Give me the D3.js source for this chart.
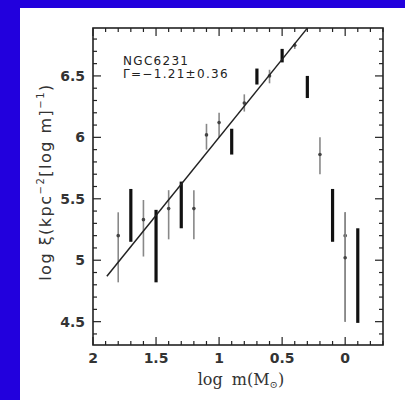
<!DOCTYPE html>
<html>
<head>
<meta charset="utf-8">
<script src="https://cdn.jsdelivr.net/npm/d3@7"></script>
<style>
  body { margin: 0; background: #2200dd; }
  svg { display: block; }
</style>
</head>
<body>
<svg id="chart" width="405" height="400"></svg>
<script>
// thick black bins
let thickX = [1.7, 1.5, 1.3, 0.9, 0.7, 0.5, 0.3, 0.1, -0.1]
let thickY = [5.42, 5.2, 5.45, 5.97, 6.5, 6.67, 6.41, 5.45, 5.02]
let thickLo = [5.15, 4.82, 5.26, 5.86, 6.43, 6.61, 6.32, 5.15, 4.49]
let thickHi = [5.58, 5.41, 5.64, 6.07, 6.56, 6.72, 6.5, 5.58, 5.26]

// thin grey bins
let thinX = [1.8, 1.6, 1.4, 1.2, 1.1, 1.0, 0.8, 0.6, 0.4, 0.2, 0.0, 0.0]
let thinY = [5.2, 5.33, 5.42, 5.42, 6.02, 6.12, 6.28, 6.5, 6.75, 5.86, 5.2, 5.02]
let thinLo = [4.82, 5.03, 5.17, 5.17, 5.9, 6.0, 6.21, 6.44, 6.72, 5.7, 4.5, 4.5]
let thinHi = [5.39, 5.49, 5.57, 5.57, 6.11, 6.2, 6.35, 6.55, 6.77, 6.0, 5.39, 5.39]

// power law fit
let fitX = [1.89, 0.3]
let fitIntercept = 7.27
let fitSlope = -1.27

let xTicks = [2, 1.5, 1, 0.5, 0]
let yTicks = [4.5, 5, 5.5, 6, 6.5]

let svg = d3.select("#chart")
svg.append("rect").attr("x", 20).attr("y", 8).attr("width", 385).attr("height", 392).attr("fill", "#fff")

let pLeft = 93, pRight = 383, pTop = 28, pBottom = 345
let x = d3.scaleLinear().domain([2, -0.3]).range([pLeft, pRight])
let y = d3.scaleLinear().domain([4.31, 6.89]).range([pBottom, pTop])

let g = svg.append("g")
let ink = "#222"

// minor/major ticks on all sides, pointing in
let xMinor = d3.range(-3, 21).map(d => d / 10)
let yMinor = d3.range(44, 69).map(d => d / 10)
function isMajor(v) { return Math.abs(v * 2 - Math.round(v * 2)) < 1e-6 }

xMinor.forEach(v => {
  let len = isMajor(v) ? 8 : 4
  g.append("line").attr("x1", x(v)).attr("x2", x(v)).attr("y1", pBottom).attr("y2", pBottom - len)
    .attr("stroke", ink).attr("stroke-width", 1.2)
  g.append("line").attr("x1", x(v)).attr("x2", x(v)).attr("y1", pTop).attr("y2", pTop + len)
    .attr("stroke", ink).attr("stroke-width", 1.2)
})
yMinor.forEach(v => {
  let len = isMajor(v) ? 8 : 4
  g.append("line").attr("y1", y(v)).attr("y2", y(v)).attr("x1", pLeft).attr("x2", pLeft + len)
    .attr("stroke", ink).attr("stroke-width", 1.2)
  g.append("line").attr("y1", y(v)).attr("y2", y(v)).attr("x1", pRight).attr("x2", pRight - len)
    .attr("stroke", ink).attr("stroke-width", 1.2)
})

g.append("rect").attr("x", pLeft).attr("y", pTop).attr("width", pRight - pLeft).attr("height", pBottom - pTop)
  .attr("fill", "none").attr("stroke", ink).attr("stroke-width", 1.6)

let font = "'DejaVu Sans', Arial, sans-serif"
let serif = "'DejaVu Serif', 'Liberation Serif', serif"
g.selectAll(".xt").data(xTicks).join("text")
  .attr("x", d => x(d)).attr("y", 363).attr("text-anchor", "middle")
  .attr("font-family", font).attr("font-size", 14).attr("font-weight", "bold").attr("fill", "#333")
  .text(d => d)
g.selectAll(".yt").data(yTicks).join("text")
  .attr("x", 85).attr("y", d => y(d) + 5).attr("text-anchor", "end")
  .attr("font-family", font).attr("font-size", 14).attr("font-weight", "bold").attr("fill", "#333")
  .text(d => d)

let xl = g.append("text").attr("x", 241).attr("y", 385).attr("text-anchor", "middle")
  .attr("font-family", serif).attr("font-size", 16).attr("word-spacing", 4).attr("fill", "#333")
xl.append("tspan").text("log m(M")
xl.append("tspan").attr("font-size", 10).attr("dy", 3).text("⊙")
xl.append("tspan").attr("dy", -3).text(")")

let yl = g.append("text").attr("transform", "translate(51,182) rotate(-90)").attr("text-anchor", "middle")
  .attr("font-family", font).attr("font-size", 16).attr("letter-spacing", 1.5).attr("fill", "#333")
yl.append("tspan").text("log ξ(kpc")
yl.append("tspan").attr("font-size", 10).attr("dy", -7).text("−2")
yl.append("tspan").attr("dy", 7).text("[log m]")
yl.append("tspan").attr("font-size", 10).attr("dy", -7).text("−1")
yl.append("tspan").attr("dy", 7).text(")")

g.append("text").attr("x", 123).attr("y", 65).attr("font-family", font).attr("font-size", 12)
  .attr("letter-spacing", 1.3).attr("fill", "#222").text("NGC6231")
g.append("text").attr("x", 123).attr("y", 78).attr("font-family", font).attr("font-size", 12)
  .attr("letter-spacing", 1.3).attr("fill", "#222").text("Γ=−1.21±0.36")

// thin bars
thinX.forEach((v, i) => {
  g.append("line").attr("x1", x(v)).attr("x2", x(v)).attr("y1", y(thinLo[i])).attr("y2", y(thinHi[i]))
    .attr("stroke", "#888").attr("stroke-width", 1.6)
  g.append("circle").attr("cx", x(v)).attr("cy", y(thinY[i])).attr("r", 1.8).attr("fill", "#444")
})
// thick bars
thickX.forEach((v, i) => {
  g.append("line").attr("x1", x(v)).attr("x2", x(v)).attr("y1", y(thickLo[i])).attr("y2", y(thickHi[i]))
    .attr("stroke", "#111").attr("stroke-width", 3.2)
})

// fit line
g.append("line")
  .attr("x1", x(fitX[0])).attr("y1", y(fitIntercept + fitSlope * fitX[0]))
  .attr("x2", x(fitX[1])).attr("y2", y(fitIntercept + fitSlope * fitX[1]))
  .attr("stroke", "#222").attr("stroke-width", 1.5)
</script>
</body>
</html>
